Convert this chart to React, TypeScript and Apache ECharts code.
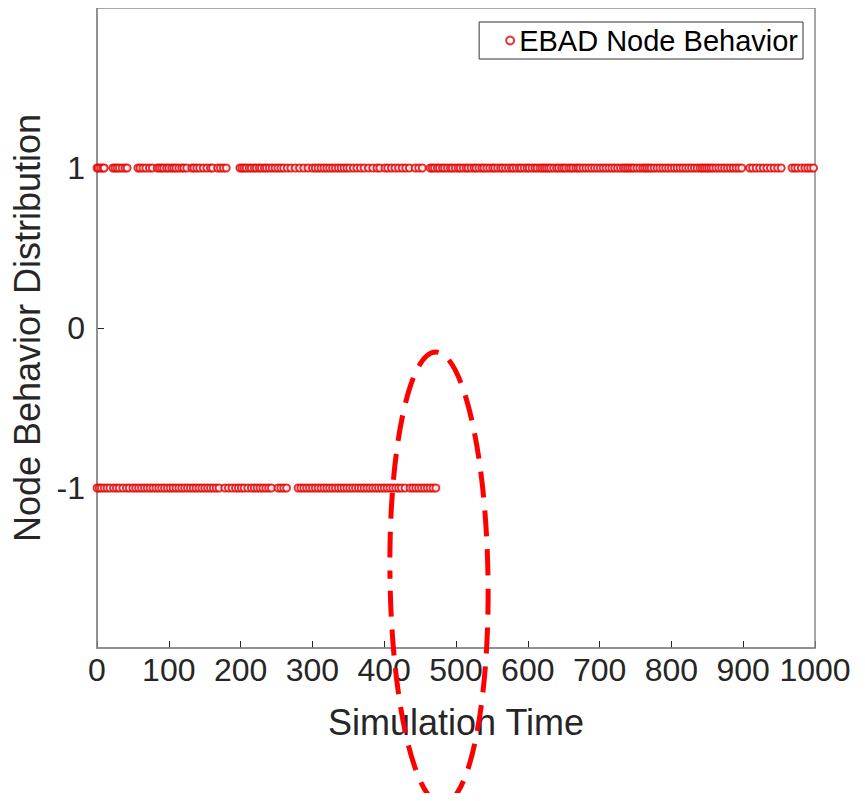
import React, { useEffect, useRef } from "react";
import * as echarts from "echarts";

const xTicks = [0, 100, 200, 300, 400, 500, 600, 700, 800, 900, 1000];
const yTicks = [-1, 0, 1];

// Simulation times at which node behaviour was +1
const positiveTimes = [
  0, 2, 5, 8, 10,
  22, 25, 28, 31, 35, 39, 42,
  57, 60, 64, 68, 73, 77,
  84, 87, 90, 93, 97, 100, 104, 107, 110, 114, 118, 121, 125,
  132, 135, 139, 143, 148, 153, 158, 161,
  168, 172, 176, 180,
  199, 202, 205, 208, 212, 215, 219, 222, 226, 229, 233, 236, 240, 244, 248, 252, 256, 260,
  265, 270, 276, 282, 288, 294, 300, 304, 308, 312, 316, 320, 324, 328, 332, 336,
  340, 344, 348, 352, 357, 362, 367, 372, 378, 384, 390, 394,
  401, 405, 410, 415, 420, 425, 430, 435,
  443, 448, 453,
  464, 467, 470, 474, 477, 481, 484, 488, 492, 495, 499, 503, 506, 510, 514, 517, 521, 525,
  528, 532, 536, 539, 543, 547, 551, 554, 558, 562, 565, 569, 573, 577, 580, 584, 588, 591,
  595, 599, 602, 606, 610, 613, 617, 620, 623, 626, 629, 632, 636, 640, 643, 647, 650, 653,
  657, 660, 663, 667, 670, 673,
  677, 681, 685, 689, 693, 697, 701, 705, 709, 713, 717, 721, 725, 729, 733, 736, 739, 742,
  745, 748, 752, 756, 760, 763, 766, 769, 772, 776, 780, 784, 788, 792, 796, 800, 804, 808,
  812, 816, 820, 824, 828, 832, 836, 840, 843, 846, 849, 852, 855, 858, 862, 866, 870, 874,
  878, 882, 886, 890, 894, 898,
  909, 913, 918, 923, 928, 933, 938, 943, 948, 953,
  968, 972, 976, 981, 986, 990, 994, 998,
];

// Simulation times at which node behaviour was -1
const negativeTimes = [
  0, 3, 6, 10, 14, 18, 23, 27, 31, 36, 41, 45, 50, 54, 58, 62, 66, 70, 74, 78, 82, 86,
  90, 94, 98, 102, 106, 110, 114, 118, 122, 126, 130, 134, 138, 142, 146, 150, 154, 158,
  162, 166, 170, 178, 183, 188, 193, 197, 201, 205, 210, 215, 219, 223, 227, 231, 235,
  239, 243, 252, 256, 260, 264,
  280, 284, 288, 292, 296, 300, 304, 308, 312, 316, 320, 324, 328, 332, 336, 340, 344,
  348, 352, 356, 360, 364, 368, 372, 376, 380, 384, 388, 392, 396, 400, 404, 408, 412,
  416, 420, 424, 429, 436, 440, 444, 448, 452, 456, 460, 464, 468, 472,
];

const seriesName = "EBAD Node Behavior";

export default function App() {
  const ref = useRef<HTMLDivElement>(null);

  useEffect(() => {
    if (!ref.current) return;
    const chart = echarts.init(ref.current, null, { renderer: "svg" });
    const data = [
      ...positiveTimes.map((t) => [t, 1]),
      ...negativeTimes.map((t) => [t, -1]),
    ];
    const font = "'Liberation Sans', Arial, Helvetica, sans-serif";
    const axisColor = "#8a8a8a";
    const textColor = "#262626";
    chart.setOption({
      animation: false,
      backgroundColor: "#ffffff",
      grid: { left: 97, right: 50, top: 8, bottom: 153, containLabel: false },
      legend: {
        data: [{ name: seriesName, icon: "emptyCircle" }],
        right: 62,
        top: 22,
        itemWidth: 8,
        itemHeight: 8,
        itemGap: 6,
        padding: [4, 5, 4, 26],
        borderColor: "#333",
        borderWidth: 1,
        backgroundColor: "#fff",
        textStyle: { fontFamily: font, fontSize: 29, color: "#000" },
      },
      xAxis: {
        type: "value",
        min: 0,
        max: 1000,
        interval: 100,
        name: "Simulation Time",
        nameLocation: "middle",
        nameGap: 56,
        nameTextStyle: { fontFamily: font, fontSize: 36, color: textColor },
        axisLine: { show: true, onZero: false, lineStyle: { color: axisColor, width: 1.5 } },
        axisTick: { show: true, inside: true, length: 7, lineStyle: { color: textColor } },
        axisLabel: {
          fontFamily: font,
          fontSize: 32,
          color: textColor,
          margin: 6,
          formatter: (v: number) => (xTicks.includes(v) ? String(v) : ""),
        },
        splitLine: { show: false },
      },
      yAxis: {
        type: "value",
        min: -2,
        max: 2,
        interval: 1,
        name: "Node Behavior Distribution",
        nameLocation: "middle",
        nameGap: 42,
        nameTextStyle: { fontFamily: font, fontSize: 36, color: textColor },
        axisLine: { show: true, onZero: false, lineStyle: { color: axisColor, width: 1.5 } },
        axisTick: {
          show: true,
          inside: true,
          length: 7,
          lineStyle: { color: textColor },
          customValues: yTicks,
        },
        axisLabel: {
          fontFamily: font,
          fontSize: 32,
          color: textColor,
          margin: 12,
          formatter: (v: number) => (yTicks.includes(v) ? String(v) : ""),
        },
        splitLine: { show: false },
      },
      series: [
        {
          name: seriesName,
          type: "scatter",
          symbol: "emptyCircle",
          symbolSize: 7,
          itemStyle: { color: "#e00000", borderColor: "#e00000", borderWidth: 1 },
          data,
        },
      ],
      graphic: [
        {
          type: "rect",
          shape: { x: 97, y: 8, width: 718, height: 640 },
          style: { fill: "none", stroke: axisColor, lineWidth: 1.5 },
          silent: true,
          z: 1,
        },
        {
          type: "ellipse",
          x: 439,
          y: 578,
          rotation: 0.015,
          shape: { cx: 0, cy: 0, rx: 49, ry: 226 },
          style: { fill: "none", stroke: "#ff0000", lineWidth: 5, lineDash: [26, 13], lineDashOffset: 18 },
          silent: true,
          z: 100,
        },
      ],
    });
    return () => chart.dispose();
  }, []);

  return <div ref={ref} style={{ width: 865, height: 801, margin: -8 }} />;
}
